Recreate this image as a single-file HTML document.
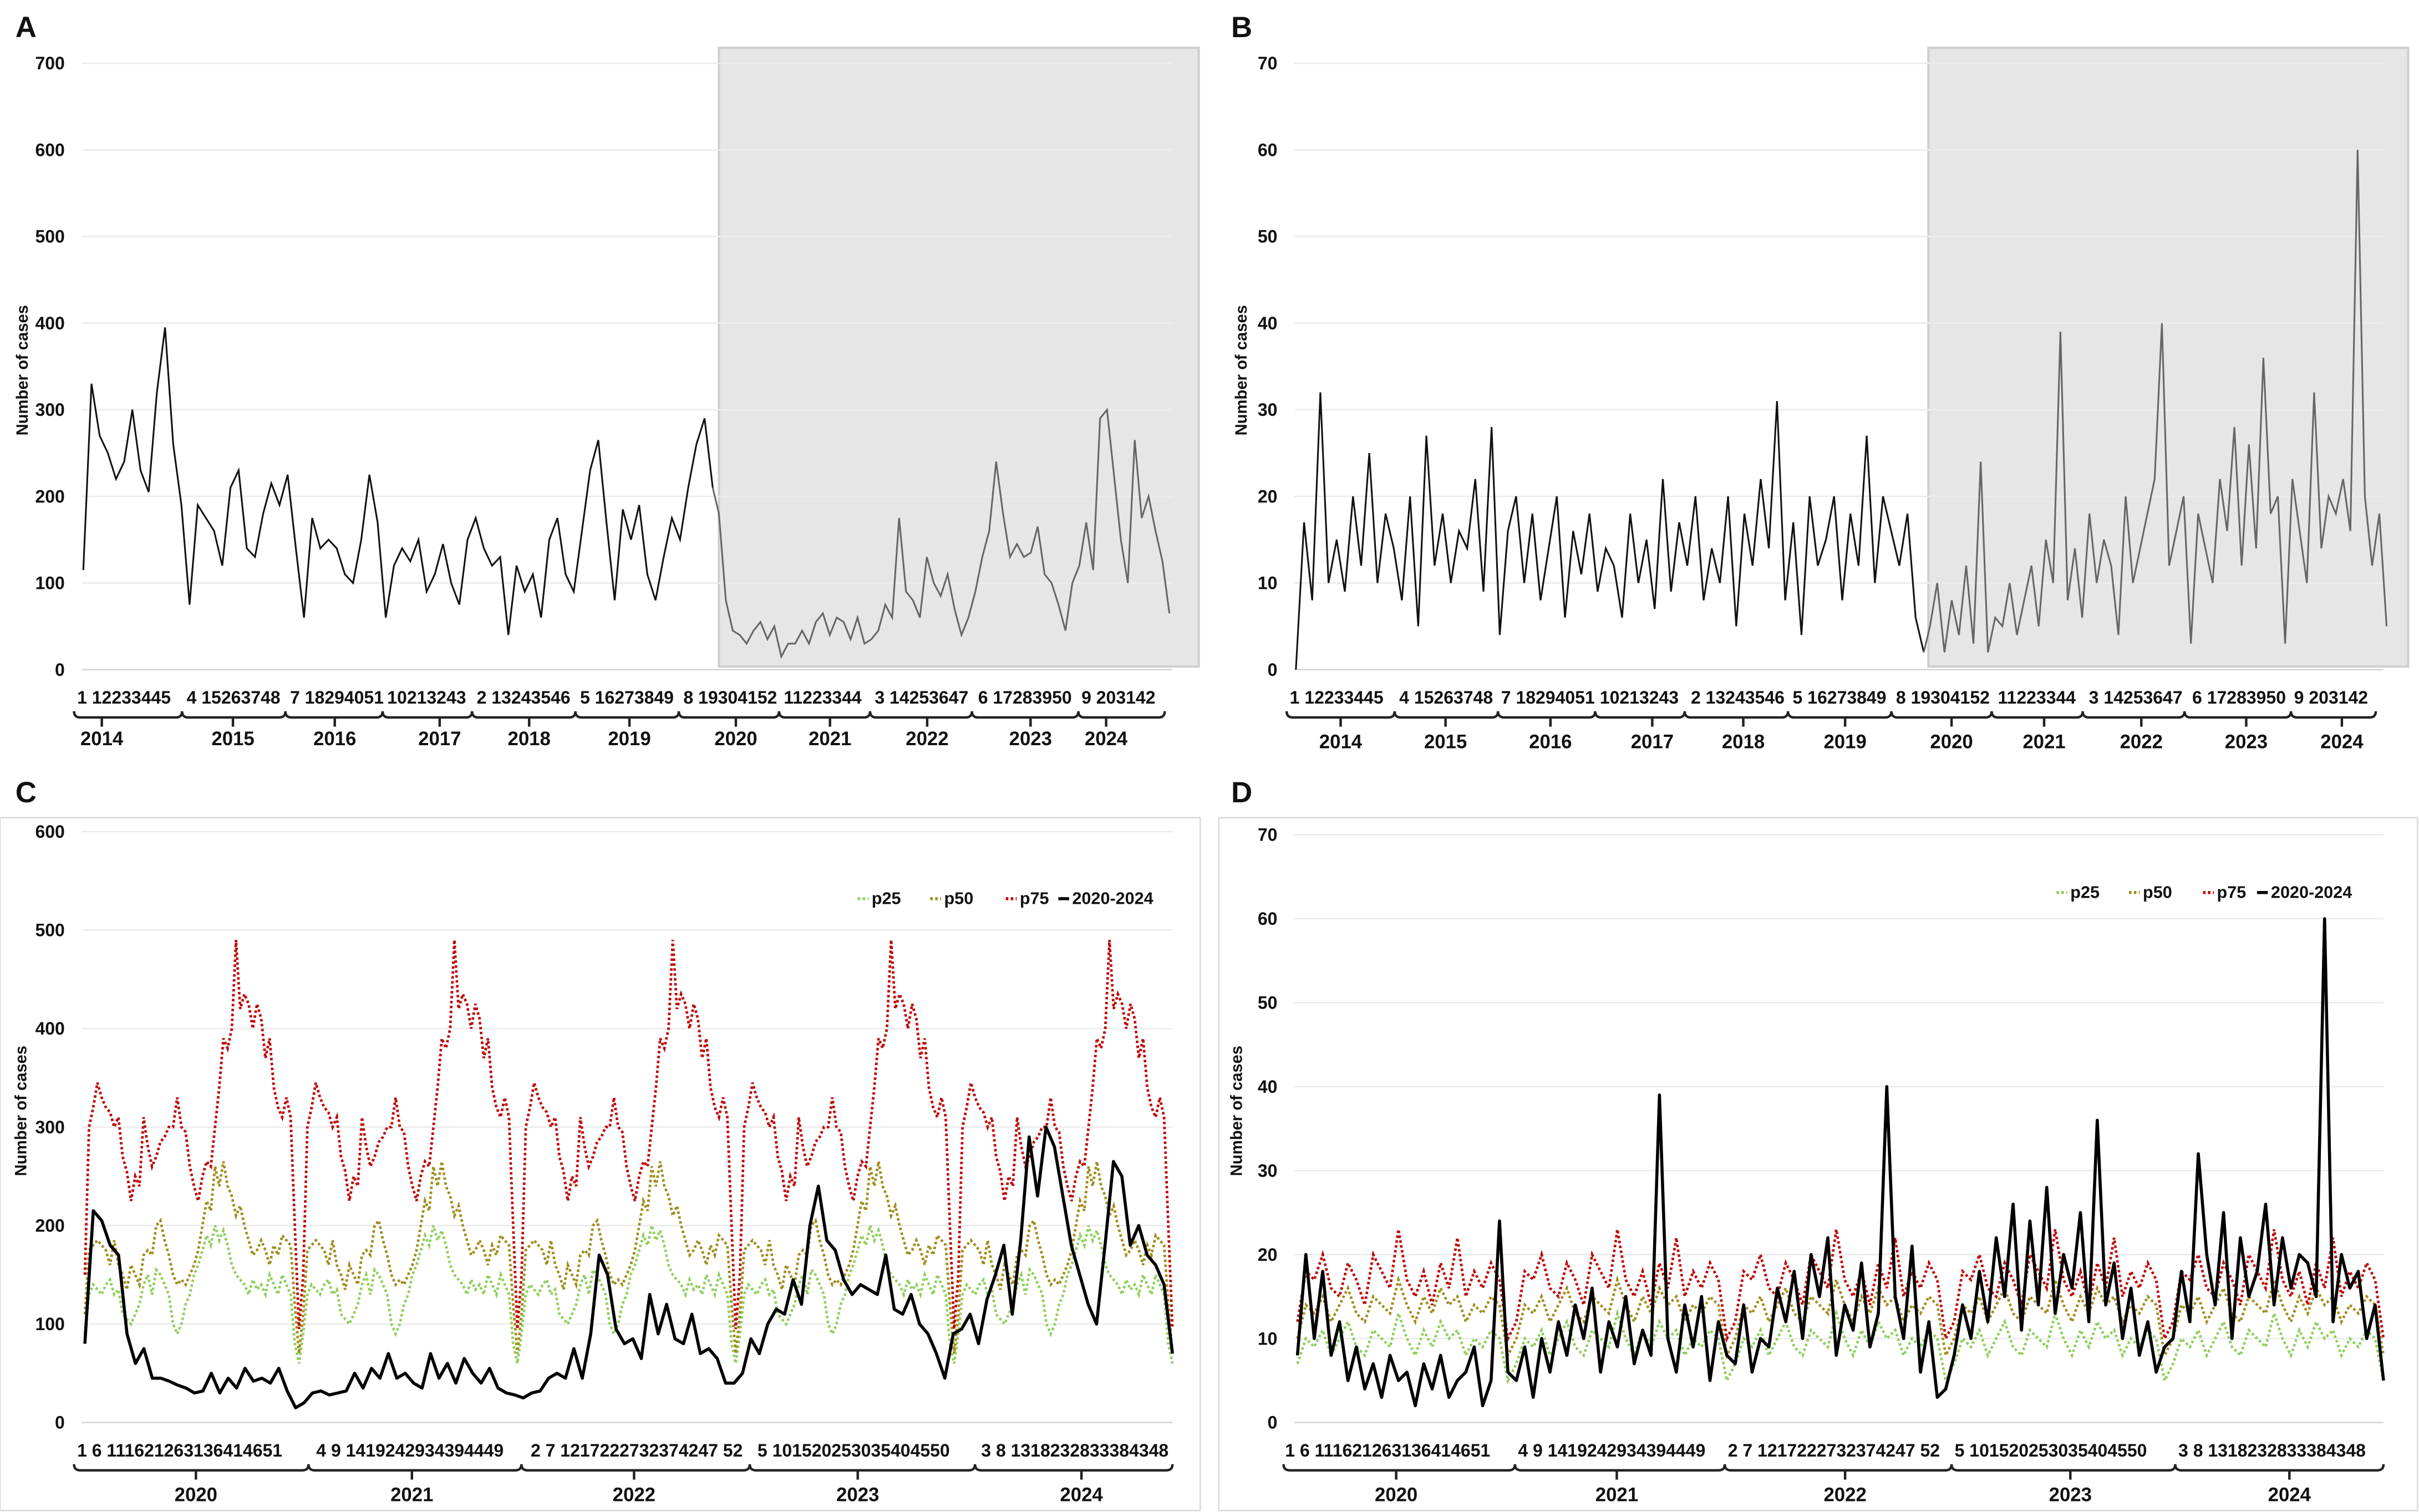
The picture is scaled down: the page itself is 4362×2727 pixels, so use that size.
<!DOCTYPE html>
<html><head><meta charset="utf-8"><style>
html,body{margin:0;padding:0;background:#fff;}
svg{display:block;}
text{font-family:"Liberation Sans",sans-serif;font-weight:bold;fill:#111;}
</style></head><body>
<svg id="fig" width="4362" height="2727" viewBox="0 0 1568 980" preserveAspectRatio="none" xmlns="http://www.w3.org/2000/svg">
<rect x="0" y="0" width="1568" height="980" fill="#fff"/>
<g id="root"></g>
</svg>
<script>
// ---------- DATA ----------
const yearsAB = ["2014","2015","2016","2017","2018","2019","2020","2021","2022","2023","2024"];
const yearsCD = ["2020","2021","2022","2023","2024"];
const weekLabelsAB = ["1 12233445","4 15263748","7 18294051","10213243","2 13243546","5 16273849","8 19304152","11223344","3 14253647","6 17283950","9 203142"];
const weekLabelsCD = ["1  6 111621263136414651","4  9 1419242934394449","2  7 1217222732374247 52","5 101520253035404550","3  8 1318232833384348"];
const ticksA = [0,100,200,300,400,500,600,700];
const ticksB = [0,10,20,30,40,50,60,70];
const ticksC = [0,100,200,300,400,500,600];
const ticksD = [0,10,20,30,40,50,60,70];
const seriesA = [115,330,270,250,220,240,300,230,205,320,395,260,190,
 75,190,175,160,120,210,230,140,130,180,215,190,225,
 140,60,175,140,150,140,110,100,150,225,170,60,120,
 140,125,150,90,110,145,100,75,150,175,140,120,130,
 40,120,90,110,60,150,175,110,90,160,230,265,170,
 80,185,150,190,110,80,130,175,150,210,260,290,210,
 180,80,45,40,30,45,55,35,50,15,30,30,45,
 30,55,65,40,60,55,35,60,30,35,45,75,60,
 175,90,80,60,130,100,85,110,70,40,60,90,130,
 160,240,180,130,145,130,135,165,110,100,75,45,100,
 120,170,115,290,300,225,150,100,265,175,200,160,125,65];
const seriesB = [0,17,8,32,10,15,9,20,12,25,10,18,14,
 8,20,5,27,12,18,10,16,14,22,9,28,4,
 16,20,10,18,8,14,20,6,16,11,18,9,14,
 12,6,18,10,15,7,22,9,17,12,20,8,14,
 10,20,5,18,12,22,14,31,8,17,4,20,12,
 15,20,8,18,12,27,10,20,16,12,18,6,2,
 5,10,2,8,4,12,3,24,2,6,5,10,4,
 8,12,5,15,10,39,8,14,6,18,10,15,12,
 4,20,10,14,18,22,40,12,16,20,3,18,14,
 10,22,16,28,12,26,14,36,18,20,3,22,16,
 10,32,14,20,18,22,16,60,20,12,18,5];
const splitA = 78, splitB = 78;
const p75C = [150,300,320,345,330,320,315,300,310,270,255,225,250,240,310,280,260,270,285,290,300,300,330,300,295,260,240,225,250,265,260,300,340,390,380,400,490,420,435,425,400,425,410,370,390,340,320,310,330,310,200,95];
const p50C = [110,175,180,185,180,175,160,185,160,150,135,160,150,140,170,175,170,200,205,185,170,150,140,145,140,150,160,175,200,225,215,260,240,265,240,230,210,220,200,185,170,175,185,175,160,180,170,190,185,180,120,70];
const p25C = [90,130,140,135,130,140,145,130,135,110,105,100,110,120,140,150,130,155,150,140,130,100,90,100,120,130,150,160,175,190,180,200,185,195,180,160,150,145,140,130,145,135,140,130,150,140,130,150,140,130,80,60];
const casesC = [80,215,205,180,170,90,60,75,45,45,42,38,35,30,32,50,30,45,35,55,42,45,40,55,32,15,
 20,30,32,28,30,32,50,35,55,45,70,45,50,40,35,70,45,60,40,65,50,40,55,35,30,28,
 25,30,32,45,50,45,75,45,90,170,150,95,80,85,65,130,90,120,85,80,110,70,75,65,40,40,
 50,85,70,100,115,110,145,120,200,240,185,175,145,130,140,135,130,170,115,110,130,100,90,70,45,90,
 95,110,80,125,150,180,110,185,290,230,300,280,230,180,150,120,100,180,265,250,180,200,170,160,140,70];
const p75D = [12,18,17,20,16,15,19,17,14,20,18,16,23,17,15,18,14,19,16,22,15,18,16,19,17,10];
const p50D = [10,14,13,15,12,14,16,13,12,15,14,13,17,14,12,15,13,16,14,15,12,14,13,15,14,8];
const p25D = [7,10,9,11,8,10,12,9,8,11,10,9,13,10,8,11,9,12,10,11,8,10,9,11,10,5];
const casesD = [8,20,10,18,8,12,5,9,4,7,3,8,5,6,2,7,4,8,3,5,6,9,2,5,24,6,
 5,9,3,10,6,12,8,14,10,16,6,12,9,15,7,11,8,39,10,6,14,9,15,5,12,8,
 7,14,6,10,9,16,12,18,10,20,15,22,8,14,11,19,9,13,40,15,10,21,6,12,3,4,
 8,14,10,18,12,22,15,26,11,24,14,28,13,20,16,25,12,36,14,19,10,16,8,12,6,9,
 10,18,12,32,20,14,25,10,22,15,18,26,14,22,16,20,19,15,60,12,20,16,18,10,14,5];

// ---------- DRAWING ----------
const NS="http://www.w3.org/2000/svg";
const root=document.getElementById('root');
function mk(tag,attrs,parent,txt){const e=document.createElementNS(NS,tag);for(const k in attrs)e.setAttribute(k,attrs[k]);if(txt!==undefined)e.textContent=txt;(parent||root).appendChild(e);return e;}
function lin(d0,d1,r0,r1){return v=>r0+(v-d0)/(d1-d0)*(r1-r0);}
function pts(vals,xf,yf){return vals.map((v,i)=>xf(i).toFixed(2)+","+yf(v).toFixed(2)).join(" ");}

function panel(cfg){
  const g=mk('g',{});
  
  
  if(cfg.box){const b=mk('rect',{x:cfg.box[0],y:cfg.box[1],width:cfg.box[2],height:cfg.box[3],fill:'none',stroke:'#dcdcdc','stroke-width':1},g);
    }
  const L=mk('text',{x:cfg.letterX,y:cfg.letterY,'font-size':19},g,cfg.letter);
  
  const yf=lin(0,cfg.ymax,cfg.y0,cfg.ytop);
  if(cfg.shade){const s=mk('rect',{x:cfg.shade[0],y:cfg.shade[1],width:cfg.shade[2],height:cfg.shade[3],fill:'#e6e6e6',stroke:'#cfcfcf','stroke-width':1.5},g);
    }
  cfg.ticks.forEach(t=>{
    const gl=mk('line',{x1:cfg.x0,x2:cfg.x1,y1:yf(t),y2:yf(t),stroke:t===0?'#d8d8d8':'#ececec','stroke-width':1},g);
    
    const tl=mk('text',{x:cfg.x0-11,y:yf(t)+4,'font-size':11.5,'text-anchor':'end'},g,String(t));
    
  });
  const yt=mk('text',{x:0,y:0,'font-size':10.5,'text-anchor':'middle',transform:`translate(${cfg.ytX},${cfg.ytY}) rotate(-90)`},g,'Number of cases');
  
  cfg.wk.forEach((s,i)=>{const t=mk('text',{x:cfg.wkX[i],y:cfg.wkY,'font-size':11.5},g,s);
    });
  const by=cfg.wkY+9;
  let d='';
  for(let i=0;i<cfg.bounds.length-1;i++){const a=cfg.bounds[i],b=cfg.bounds[i+1],c=cfg.yearX[i];
    d+=`M${a},${by-4} Q${a},${by} ${a+4},${by} L${b-4},${by} Q${b},${by} ${b},${by-4} M${c},${by} L${c},${by+6} `;}
  const br=mk('path',{d:d,fill:'none',stroke:'#222','stroke-width':1.6},g);
  
  cfg.years.forEach((y,i)=>{const t=mk('text',{x:cfg.yearX[i],y:cfg.yearY,'font-size':12.5,'text-anchor':'middle'},g,y);
    });
  return {g,yf};
}

function ab(cfg,series,split,xs){
  const P=panel(cfg);
  const xa=lin(0,split-1,xs[0],xs[1]), xb=lin(0,series.length-split-1,xs[2],xs[3]);
  const l1=mk('polyline',{points:pts(series.slice(0,split),xa,P.yf),fill:'none',stroke:'#111','stroke-width':1.1},P.g);
  
  const l2=mk('polyline',{points:pts(series.slice(split-1),i=>i===0?xs[1]:xb(i-1),P.yf),fill:'none',stroke:'#666','stroke-width':1.1},P.g);
  
}
ab({name:'panel-a',letter:'A',letterX:10,letterY:24,ymax:700,y0:434,ytop:41,x0:53,x1:760,ticks:ticksA,
    shade:[466,31,311,401],ytX:18,ytY:240,wk:weekLabelsAB,wkX:[50,121,188,251,309,376,443,508,567,634,701],wkY:456,
    bounds:[48,118,185,248,306,373,440,505,564,630,699,755],yearX:[66,151,217,285,343,408,477,538,601,668,717],years:yearsAB,yearY:483},
    seriesA,splitA,[54,462,466,758]);
ab({name:'panel-b',letter:'B',letterX:798,letterY:24,ymax:70,y0:434,ytop:41,x0:839,x1:1545,ticks:ticksB,
    shade:[1250,31,311,401],ytX:808,ytY:240,wk:weekLabelsAB,wkX:[836,907,973,1037,1096,1162,1229,1295,1354,1421,1487],wkY:456,
    bounds:[834,904,971,1034,1092,1159,1226,1291,1350,1416,1485,1540],yearX:[869,937,1005,1071,1130,1196,1265,1325,1388,1456,1518],years:yearsAB,yearY:485},
    seriesB,splitB,[840,1247,1251,1547]);

function cd(cfg,p25,p50,p75,cases){
  const P=panel(cfg);
  const rep=a=>[].concat(a,a,a,a,a);
  const n=rep(p25).length;
  const xf=lin(0,n-1,cfg.x0+2,cfg.x1);
  const xc=lin(0,cases.length-1,cfg.x0+2,cfg.x1);
  [[p25,'#8fcf5c','p25-line'],[p50,'#a08c1c','p50-line'],[p75,'#c00000','p75-line']].forEach(s=>{
    const l=mk('polyline',{points:pts(rep(s[0]),xf,P.yf),fill:'none',stroke:s[1],'stroke-width':1.7,'stroke-dasharray':'1.6 1.6'},P.g);
    
  });
  const l=mk('polyline',{points:pts(cases,xc,P.yf),fill:'none',stroke:'#000','stroke-width':2,'stroke-linejoin':'round'},P.g);
  
  const lg=mk('g',{},P.g);
  
  const lx=cfg.legendX, ly=cfg.legendY;
  [['p25','#8fcf5c',1],['p50','#a08c1c',1],['p75','#c00000',1],['2020-2024','#000',0]].forEach((s,i)=>{
    const e=mk('line',{x1:lx[i],x2:lx[i]+7,y1:ly-3.5,y2:ly-3.5,stroke:s[1],'stroke-width':2,'stroke-dasharray':s[2]?'1.6 1.6':'none'},lg);
    
    const t=mk('text',{x:lx[i]+9,y:ly,'font-size':11},lg,s[0]);
    
  });
}
cd({name:'panel-c',box:[0,530,778,449],letter:'C',letterX:10,letterY:520,ymax:600,y0:922,ytop:539,x0:53,x1:760,ticks:ticksC,
   ytX:17,ytY:720,wk:weekLabelsCD,wkX:[50,205,344,491,636],wkY:944,bounds:[48,200,338,486,632,760],yearX:[127,267,411,556,701],
   years:yearsCD,yearY:973,legendX:[556,603,652,686],legendY:586},p25C,p50C,p75C,casesC);
cd({name:'panel-d',box:[790,530,777,449],letter:'D',letterX:798,letterY:520,ymax:70,y0:922,ytop:541,x0:839,x1:1545,ticks:ticksD,
   ytX:805,ytY:720,wk:weekLabelsCD,wkX:[833,984,1120,1267,1412],wkY:944,bounds:[832,982,1118,1265,1410,1545],yearX:[905,1048,1196,1342,1484],
   years:yearsCD,yearY:973,legendX:[1333,1380,1428,1463],legendY:582},p25D,p50D,p75D,casesD);
</script>
</body></html>
